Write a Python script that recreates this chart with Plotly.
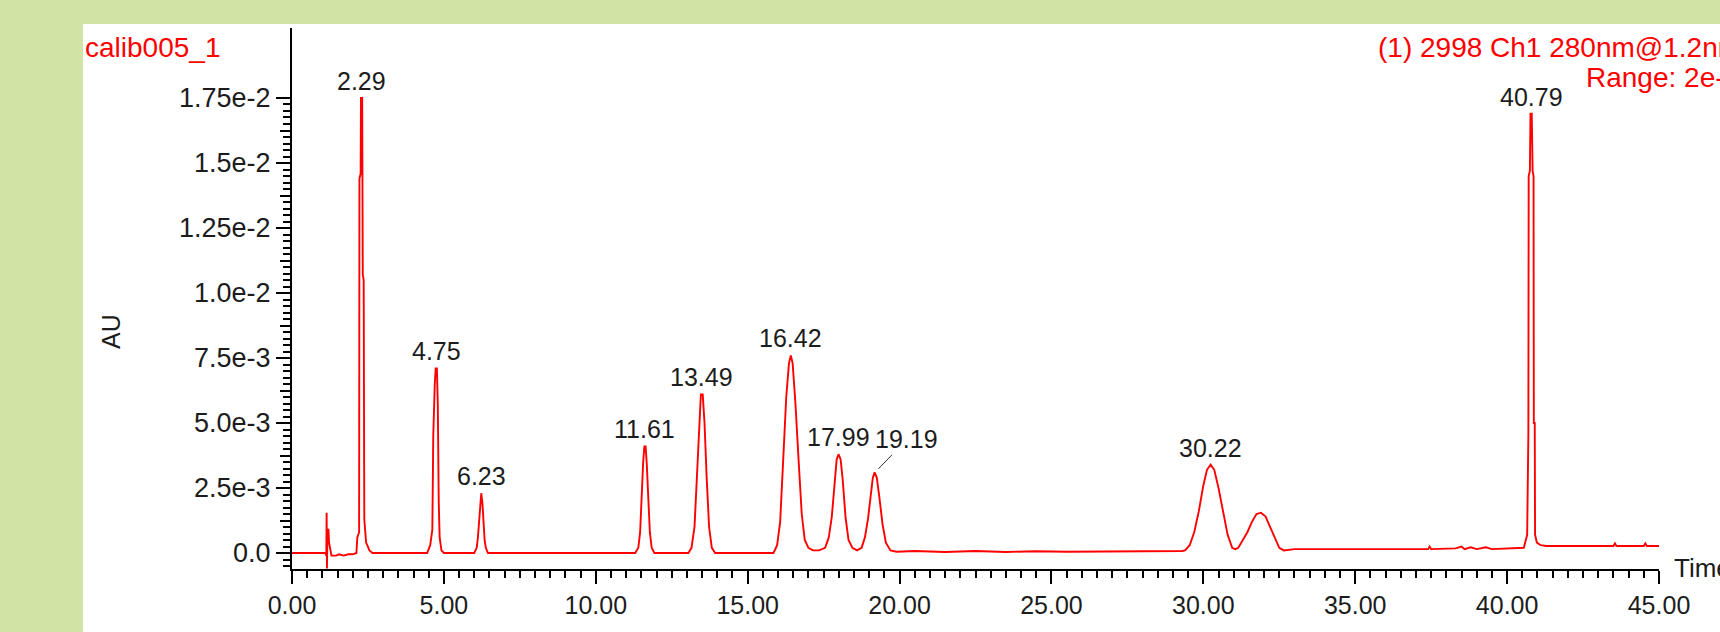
import numpy as np
import plotly.graph_objects as go

# ---------------- data ----------------
time_min = [
    0.00, 1.10, 1.13, 1.14, 1.15, 1.17, 1.20, 1.22, 1.26, 1.30, 1.45, 1.55, 1.70, 1.85, 2.00,
    2.12, 2.15, 2.21, 2.22, 2.26, 2.27, 2.31, 2.33, 2.36, 2.38, 2.44, 2.55, 2.65,
    4.45, 4.55, 4.62, 4.65, 4.70, 4.73, 4.77, 4.80, 4.83, 4.86, 4.92, 5.00,
    6.00, 6.08, 6.12, 6.16, 6.20, 6.23, 6.27, 6.30, 6.34, 6.38, 6.45,
    11.30, 11.40, 11.46, 11.51, 11.56, 11.60, 11.64, 11.68, 11.73, 11.78, 11.84, 11.93,
    13.05, 13.15, 13.25, 13.33, 13.40, 13.46, 13.52, 13.58, 13.65, 13.73, 13.82, 13.93,
    15.85, 15.97, 16.07, 16.17, 16.27, 16.36, 16.42, 16.48, 16.57, 16.68, 16.78, 16.88, 17.00, 17.15, 17.35,
    17.55, 17.67, 17.77, 17.86, 17.93, 17.99, 18.06, 18.13, 18.22, 18.32, 18.45, 18.60,
    18.75, 18.86, 18.96, 19.05, 19.12, 19.18, 19.25, 19.34, 19.44, 19.55, 19.70, 19.90,
    20.50, 21.50, 22.50, 23.50, 24.50, 25.50, 27.50, 29.30,
    29.40, 29.55, 29.70, 29.85, 30.00, 30.12, 30.24, 30.36, 30.50, 30.65, 30.80, 30.95, 31.05,
    31.15, 31.30, 31.45, 31.60, 31.75, 31.90, 32.05, 32.20, 32.35, 32.50, 32.65,
    33.00, 35.00, 37.40, 37.45, 37.50, 38.30, 38.50, 38.60, 38.80, 39.00, 39.30, 39.50, 40.50,
    40.55, 40.66, 40.68, 40.70, 40.71, 40.75, 40.77, 40.81, 40.84, 40.87, 40.88, 40.91, 40.92, 40.98, 41.10, 41.30,
    43.50, 43.55, 43.60, 44.50, 44.55, 44.60, 45.00,
]
absorbance_au = [
    0.0, 0.0, -0.0001, 0.00155, -0.0006, 0.0009, 0.0009, 0.0004, 0.0002, -0.0001, -0.0001, -0.00005, -0.0001, -0.00005, -0.00005,
    0.0, 0.0006, 0.0008, 0.0144, 0.0146, 0.0175, 0.0175, 0.0107, 0.0105, 0.0013, 0.0004, 0.0001, 0.0,
    0.0, 0.0003, 0.0009, 0.0045, 0.0065, 0.0071, 0.0071, 0.0057, 0.0020, 0.0006, 0.0001, 0.0,
    0.0, 0.0002, 0.0006, 0.0013, 0.0020, 0.0023, 0.0019, 0.0013, 0.0005, 0.0002, 0.0,
    0.0, 0.0002, 0.0008, 0.0023, 0.0035, 0.0041, 0.0041, 0.0034, 0.0021, 0.0008, 0.0002, 0.0,
    0.0, 0.0002, 0.0010, 0.0029, 0.0050, 0.0061, 0.0061, 0.0050, 0.0029, 0.0010, 0.0002, 0.0,
    0.0, 0.0003, 0.0012, 0.0035, 0.0060, 0.0073, 0.0076, 0.0073, 0.0058, 0.0035, 0.0015, 0.0005, 0.0002, 0.0001, 0.0001,
    0.0002, 0.0006, 0.0014, 0.0028, 0.0036, 0.0038, 0.0036, 0.0028, 0.0014, 0.0005, 0.0002, 0.0001,
    0.0002, 0.0006, 0.0013, 0.0022, 0.0029, 0.0031, 0.0029, 0.0021, 0.0011, 0.0004, 0.0001, 0.00005,
    0.00008, 0.00004, 0.00008, 0.00004, 0.00007, 0.00005, 0.00006, 0.00008,
    0.0001, 0.0003, 0.0008, 0.0016, 0.0026, 0.0032, 0.0034, 0.0032, 0.0025, 0.0016, 0.0007, 0.0002, 0.00015,
    0.0002, 0.0005, 0.0008, 0.0012, 0.0015, 0.00155, 0.0014, 0.0010, 0.0006, 0.0002, 0.0001,
    0.00015, 0.00015, 0.00015, 0.00025, 0.00015, 0.00018, 0.00025, 0.00015, 0.00022, 0.00015, 0.00022, 0.00015, 0.00018,
    0.0002, 0.0007, 0.0046, 0.0046, 0.0145, 0.0147, 0.0169, 0.0169, 0.0147, 0.0145, 0.0050, 0.0050, 0.0007, 0.0004, 0.0003, 0.00027,
    0.00027, 0.00037, 0.00027, 0.00027, 0.00037, 0.00027, 0.00027,
]

peak_rt = [2.29, 4.75, 6.23, 11.61, 13.49, 16.42, 17.99, 19.19, 30.22, 40.79]
peak_apex_au = [0.0175, 0.0071, 0.0023, 0.0041, 0.0061, 0.0076, 0.0038, 0.0031, 0.0034, 0.0169]
peak_labels = ["2.29", "4.75", "6.23", "11.61", "13.49", "16.42", "17.99", "19.19", "30.22", "40.79"]

x_tickvals = [0, 2.5, 5, 7.5, 10, 12.5, 15, 17.5, 20, 22.5, 25, 27.5, 30, 32.5, 35, 37.5, 40, 42.5, 45]
x_ticktext = ["0.00", "", "5.00", "", "10.00", "", "15.00", "", "20.00", "", "25.00", "",
              "30.00", "", "35.00", "", "40.00", "", "45.00"]
y_tickvals = [0, 0.0025, 0.005, 0.0075, 0.01, 0.0125, 0.015, 0.0175]
y_ticktext = ["0.0", "2.5e-3", "5.0e-3", "7.5e-3", "1.0e-2", "1.25e-2", "1.5e-2", "1.75e-2"]

sample_name = "calib005_1"
channel_line1 = "(1) 2998 Ch1 280nm@1.2nm"
channel_line2 = "Range: 2e-2"

# ---------------- layout constants ----------------
W, H = 1720, 632
L, R, T, B = 292, W - 1659, 28, H - 569
PW, PH = W - L - R, H - T - B
Y_MIN, Y_MAX = -0.000615, 0.020192

def px_x(px):
    return (px - L) / PW

def px_y(py):
    return (H - B - py) / PH

GREEN = "#D2E3A6"
RED = "#FF0000"
TXT = "#1c1c1c"
FONT = "Liberation Sans"

fig = go.Figure()
fig.add_trace(go.Scatter(x=time_min, y=absorbance_au, mode="lines",
                         line=dict(color=RED, width=1.9), showlegend=False, hoverinfo="skip"))
# invisible helper trace so the medium-tick overlay axis is rendered
fig.add_trace(go.Scatter(x=[time_min[0]], y=[absorbance_au[0]], mode="lines", yaxis="y2",
                         line=dict(width=0), showlegend=False, hoverinfo="skip"))

minor_y = [v for v in np.arange(-0.0005, 0.017501, 0.00025)]
medium_y = [v for v in np.arange(0.00125, 0.0175, 0.0025)]

fig.update_layout(
    width=W, height=H,
    margin=dict(l=L, r=R, t=T, b=B, autoexpand=False),
    paper_bgcolor=GREEN, plot_bgcolor="white",
    font=dict(family=FONT, size=25, color=TXT),
    xaxis=dict(range=[0, 45], showgrid=False, zeroline=False,
               showline=True, linecolor="black", linewidth=2,
               ticks="outside", ticklen=13, tickwidth=2, tickcolor="black",
               tickmode="array", tickvals=x_tickvals, ticktext=x_ticktext,
               tickfont=dict(family=FONT, size=25, color=TXT),
               minor=dict(tickmode="array", tickvals=[v for v in np.arange(0, 45.001, 0.5)],
                          ticks="outside", ticklen=7, tickwidth=2, tickcolor="black")),
    yaxis=dict(range=[Y_MIN, Y_MAX], showgrid=False, zeroline=False,
               showline=True, linecolor="black", linewidth=2,
               ticks="outside", ticklen=14, tickwidth=2, tickcolor="black",
               tickmode="array", tickvals=y_tickvals, ticktext=y_ticktext,
               tickfont=dict(family=FONT, size=27, color=TXT),
               minor=dict(tickmode="array", tickvals=minor_y,
                          ticks="outside", ticklen=7, tickwidth=2, tickcolor="black")),
    yaxis2=dict(range=[Y_MIN, Y_MAX], overlaying="y", side="left", anchor="x",
                showgrid=False, zeroline=False, showline=False,
                ticks="outside", ticklen=11, tickwidth=2, tickcolor="black",
                tickmode="array", tickvals=medium_y, showticklabels=False),
)

# white panel over green background
fig.add_shape(type="rect", xref="paper", yref="paper",
              x0=px_x(83), x1=px_x(W + 5), y0=px_y(H + 5), y1=px_y(24),
              fillcolor="white", line=dict(width=0), layer="below")

# peak labels
for rt, ap, lab in zip(peak_rt, peak_apex_au, peak_labels):
    if lab == "19.19":
        fig.add_annotation(x=rt, y=ap, text=lab, showarrow=True, arrowhead=0,
                           arrowwidth=1, arrowcolor="#333333", ax=32, ay=-33, standoff=5,
                           font=dict(family=FONT, size=25, color=TXT))
    else:
        fig.add_annotation(x=rt, y=ap, text=lab, showarrow=False, yanchor="bottom",
                           xanchor="center", yshift=1,
                           font=dict(family=FONT, size=25, color=TXT))

# header texts
fig.add_annotation(xref="paper", yref="paper", x=px_x(83), y=px_y(47), text=sample_name,
                   showarrow=False, xanchor="left", yanchor="middle",
                   font=dict(family=FONT, size=28, color=RED))
fig.add_annotation(xref="paper", yref="paper", x=px_x(1376), y=px_y(47), text=channel_line1,
                   showarrow=False, xanchor="left", yanchor="middle",
                   font=dict(family=FONT, size=28, color=RED))
fig.add_annotation(xref="paper", yref="paper", x=px_x(1584), y=px_y(77), text=channel_line2,
                   showarrow=False, xanchor="left", yanchor="middle",
                   font=dict(family=FONT, size=28, color=RED))

# axis titles
fig.add_annotation(xref="paper", yref="paper", x=px_x(111), y=px_y(331), text="AU",
                   showarrow=False, textangle=-90, xanchor="center", yanchor="middle",
                   font=dict(family=FONT, size=25, color=TXT))
fig.add_annotation(xref="paper", yref="paper", x=px_x(1672), y=px_y(568), text="Time",
                   showarrow=False, xanchor="left", yanchor="middle",
                   font=dict(family=FONT, size=26, color=TXT))

fig.write_html("out.html", config={"displayModeBar": False},
               post_script="document.body.style.margin='0';document.body.style.overflow='hidden';")
